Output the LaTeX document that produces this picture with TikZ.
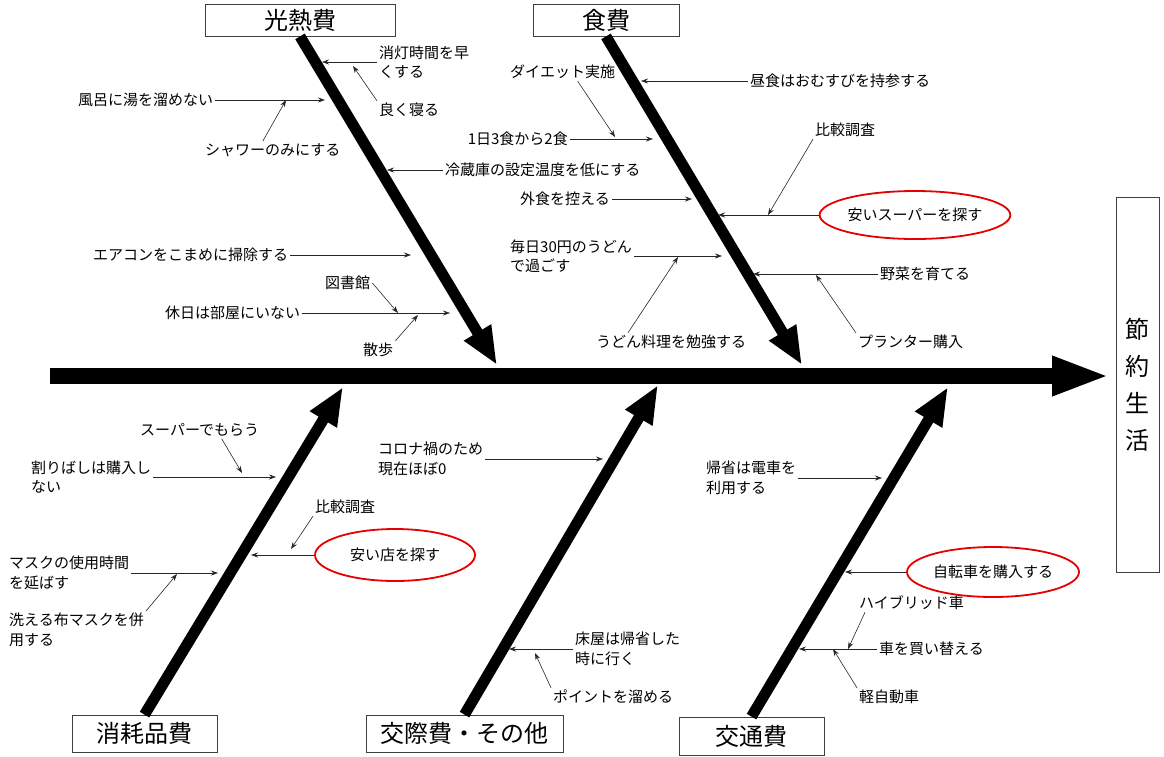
\documentclass[tikz,border=0pt]{standalone}
\usepackage{fontspec}
\setmainfont{Noto Sans CJK JP}
\usetikzlibrary{arrows.meta,shapes.geometric}
\definecolor{vermelho}{RGB}{230,0,0}

\begin{document}
\begin{tikzpicture}[x=1pt,y=-1pt,
    txt/.style={font=\fontsize{15}{19.5}\selectfont, inner sep=2pt, align=left, anchor=west},
    caixa/.style={draw=black!75, line width=0.8pt, font=\fontsize{24}{28}\selectfont, inner sep=0pt},
    osso/.style={line width=11pt, -{Triangle[length=38pt,width=29pt]}},
    seta/.style={draw=black!85, line width=0.6pt, -{Stealth[length=7pt,width=5pt]}},
    oval/.style={ellipse, draw=vermelho, line width=1.8pt, inner sep=0pt, font=\fontsize{15}{19.5}\selectfont}]

    \useasboundingbox (0,0) rectangle (1164,756);

    % Caixas das causas
    \node[caixa, minimum width=190pt, minimum height=32pt] (K) at (300,20) {光熱費};
    \node[caixa, minimum width=146pt, minimum height=32pt] (S) at (606,20) {食費};
    \node[caixa, minimum width=145pt, minimum height=37pt] (M) at (144.5,733.5) {消耗品費};
    \node[caixa, minimum width=197pt, minimum height=37pt] (C) at (464.5,733.5) {交際費・その他};
    \node[caixa, minimum width=145pt, minimum height=38pt] (T) at (751.5,736) {交通費};
    \node[caixa, minimum width=43pt, minimum height=375pt, align=center,
          font=\fontsize{24}{37}\selectfont] (G) at (1137.5,384.5) {節\\約\\生\\活};

    % Espinha principal
    \coordinate (E) at (50,376);
    \coordinate (Ep) at (1110,376);
    \draw[line width=16pt, -{Triangle[length=58pt,width=36pt]}] (E) -- (Ep);

    % Ossos
    \coordinate (Kp) at (497,365);
    \coordinate (Sp) at (802,365);
    \coordinate (Mp) at (343,387);
    \coordinate (Cp) at (658,385);
    \coordinate (Tp) at (948,387);
    \draw[osso] (K.south) -- (Kp);
    \draw[osso] (S.south) -- (Sp);
    \draw[osso] (M.north) -- (Mp);
    \draw[osso] (C.north) -- (Cp);
    \draw[osso] (T.north) -- (Tp);

    % Luz e aquecimento
    \node[txt] (K1) at (377,62) {消灯時間を早\\くする};
    \node[txt] (K2) at (377,110) {良く寝る};
    \node[txt] (K3) at (76,100) {風呂に湯を溜めない};
    \node[txt] (K4) at (203,150) {シャワーのみにする};
    \node[txt] (K5) at (443,170) {冷蔵庫の設定温度を低にする};
    \node[txt] (K6) at (91,255) {エアコンをこまめに掃除する};
    \node[txt] (K7) at (323,283) {図書館};
    \node[txt] (K8) at (163,313) {休日は部屋にいない};
    \node[txt] (K9) at (361,350) {散歩};
    \coordinate (k1) at (322,62);
    \coordinate (k2) at (353,66);
    \coordinate (k3) at (325,100);
    \coordinate (k4) at (286,100);
    \coordinate (k5) at (387,170);
    \coordinate (k6) at (411,255);
    \coordinate (k7) at (398,313);
    \coordinate (k8) at (450,313);
    \coordinate (k9) at (418,315);
    \draw[seta] (K1.west) -- (k1);
    \draw[seta] (K2.north west) -- (k2);
    \draw[seta] (K3.east) -- (k3);
    \draw[seta] ([xshift=-10pt]K4.north) -- (k4);
    \draw[seta] (K5.west) -- (k5);
    \draw[seta] (K6.east) -- (k6);
    \draw[seta] (K7.east) -- (k7);
    \draw[seta] (K8.east) -- (k8);
    \draw[seta] (K9.north east) -- (k9);

    % Alimentacao
    \node[txt] (S1) at (508,72) {ダイエット実施};
    \node[txt] (S2) at (748,81) {昼食はおむすびを持参する};
    \node[txt, anchor=east] (S3) at (570,139) {1日3食から2食};
    \node[txt] (S4) at (813,130) {比較調査};
    \node[txt] (S6) at (518,199) {外食を控える};
    \node[oval, minimum width=176pt, minimum height=48pt] (S5) at (915,215) {安いスーパーを探す};
    \node[txt] (S7) at (508,256) {毎日30円のうどん\\で過ごす};
    \node[txt] (S8) at (594,342) {うどん料理を勉強する};
    \node[txt] (S9) at (878,274) {野菜を育てる};
    \node[txt] (S10) at (856,342) {プランター購入};
    \coordinate (s1) at (615,137);
    \coordinate (s2) at (641,81);
    \coordinate (s3) at (653,139);
    \coordinate (s4) at (768,215);
    \coordinate (s5) at (718,215);
    \coordinate (s6) at (692,199);
    \coordinate (s7) at (722,256);
    \coordinate (s8) at (678,257);
    \coordinate (s9) at (753,274);
    \coordinate (s10) at (816,275);
    \draw[seta] ([xshift=15pt]S1.south) -- (s1);
    \draw[seta] (S2.west) -- (s2);
    \draw[seta] (S3.east) -- (s3);
    \draw[seta] (S4.south west) -- (s4);
    \draw[seta] (S5.west) -- (s5);
    \draw[seta] (S6.east) -- (s6);
    \draw[seta] (S7.east) -- (s7);
    \draw[seta] ([xshift=34pt]S8.north west) -- (s8);
    \draw[seta] (S9.west) -- (s9);
    \draw[seta] (S10.north west) -- (s10);

    % Consumiveis
    \node[txt] (M1) at (138,430) {スーパーでもらう};
    \node[txt] (M2) at (29,477) {割りばしは購入し\\ない};
    \node[txt] (M3) at (313,507) {比較調査};
    \node[oval, minimum width=160pt, minimum height=52pt] (M4) at (395,555) {安い店を探す};
    \node[txt] (M5) at (7,573) {マスクの使用時間\\を延ばす};
    \node[txt] (M6) at (7,630) {洗える布マスクを併\\用する};
    \coordinate (m1) at (242,473);
    \coordinate (m2) at (276,477);
    \coordinate (m3) at (291,549);
    \coordinate (m4) at (251,555);
    \coordinate (m5) at (218,573);
    \coordinate (m6) at (177,574);
    \draw[seta] ([xshift=22pt]M1.south) -- (m1);
    \draw[seta] (M2.east) -- (m2);
    \draw[seta] (M3.south west) -- (m3);
    \draw[seta] (M4.west) -- (m4);
    \draw[seta] (M5.east) -- (m5);
    \draw[seta] (M6.north east) -- (m6);

    % Convivio e outros
    \node[txt] (C1) at (376,459) {コロナ禍のため\\現在ほぼ0};
    \node[txt] (C2) at (573,649) {床屋は帰省した\\時に行く};
    \node[txt] (C3) at (551,697) {ポイントを溜める};
    \coordinate (c1) at (603,459);
    \coordinate (c2) at (509,649);
    \coordinate (c3) at (535,653);
    \draw[seta] (C1.east) -- (c1);
    \draw[seta] (C2.west) -- (c2);
    \draw[seta] (C3.north west) -- (c3);

    % Transporte
    \node[txt] (T1) at (704,478) {帰省は電車を\\利用する};
    \node[oval, minimum width=172pt, minimum height=50pt] (T2) at (993,572) {自転車を購入する};
    \node[txt] (T3) at (857,603) {ハイブリッド車};
    \node[txt] (T4) at (877,649) {車を買い替える};
    \node[txt] (T5) at (857,697) {軽自動車};
    \coordinate (t1) at (882,478);
    \coordinate (t2) at (845,572);
    \coordinate (t3) at (848,649);
    \coordinate (t4) at (799,649);
    \coordinate (t5) at (833,649);
    \draw[seta] (T1.east) -- (t1);
    \draw[seta] (T2.west) -- (t2);
    \draw[seta] ([xshift=8pt]T3.south west) -- (t3);
    \draw[seta] (T4.west) -- (t4);
    \draw[seta] (T5.north west) -- (t5);

\end{tikzpicture}
\end{document}
